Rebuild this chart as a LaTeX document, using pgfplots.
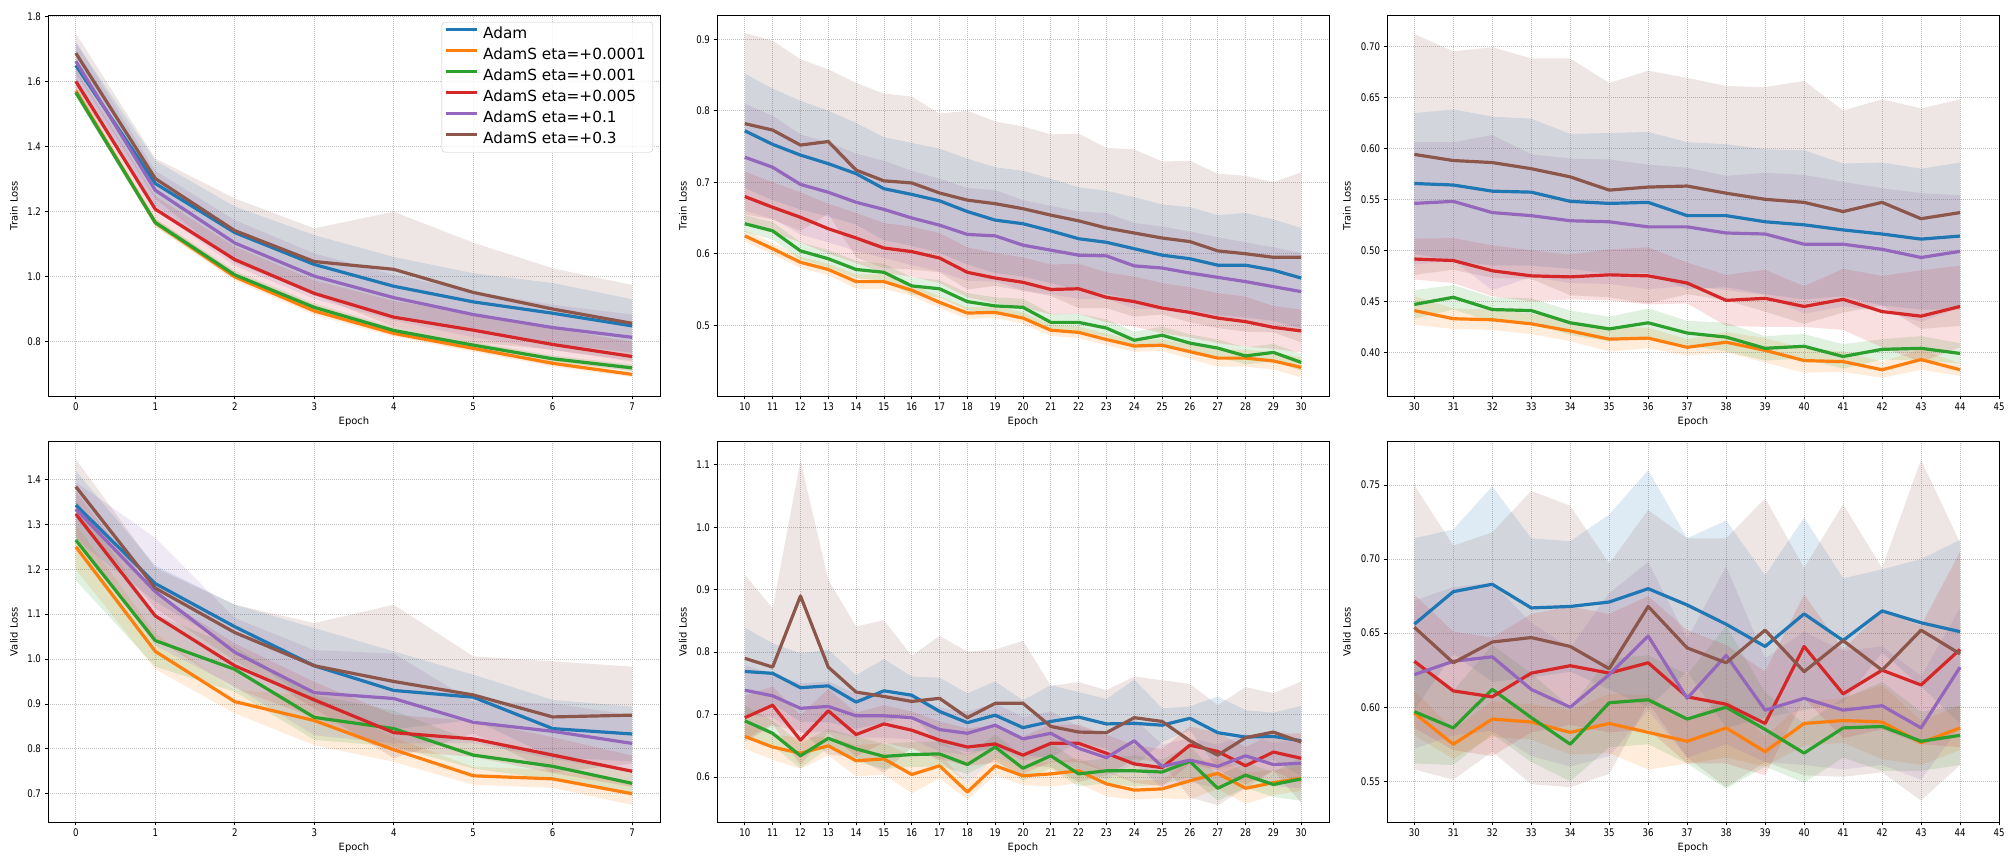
\documentclass[border=0pt]{standalone}
\usepackage{fontspec}
\setmainfont{DejaVu Sans}
\newfontfamily\tickfont[FakeStretch=0.82]{DejaVu Sans}
\usepackage{pgfplots}
\usepackage{pgfplotstable}
\usepgfplotslibrary{fillbetween}
\pgfplotsset{compat=1.18}

\definecolor{cA}{HTML}{1F77B4}
\definecolor{cB}{HTML}{FF7F0E}
\definecolor{cC}{HTML}{2CA02C}
\definecolor{cD}{HTML}{D62728}
\definecolor{cE}{HTML}{9467BD}
\definecolor{cF}{HTML}{8C564B}

% columns: epoch, then mean (m) and std (s) for
% a = Adam, b = eta 0.0001, c = eta 0.001, d = eta 0.005, e = eta 0.1, f = eta 0.3
\pgfplotstableread{
x  ma    sa    mb    sb    mc    sc    md    sd    me    se    mf    sf
0  1.649 0.070 1.571 0.015 1.566 0.012 1.600 0.035 1.662 0.060 1.687 0.060
1  1.286 0.070 1.165 0.012 1.166 0.012 1.207 0.040 1.265 0.060 1.301 0.062
2  1.135 0.080 0.999 0.012 1.005 0.012 1.052 0.040 1.103 0.070 1.141 0.099
3  1.037 0.090 0.894 0.012 0.905 0.012 0.948 0.040 1.001 0.070 1.046 0.102
4  0.970 0.090 0.825 0.010 0.834 0.010 0.875 0.050 0.935 0.070 1.022 0.177
5  0.922 0.088 0.779 0.010 0.789 0.010 0.835 0.050 0.883 0.070 0.951 0.153
6  0.887 0.093 0.733 0.010 0.747 0.010 0.791 0.050 0.843 0.070 0.900 0.125
7  0.848 0.082 0.699 0.008 0.719 0.010 0.754 0.045 0.813 0.070 0.856 0.118
}\trainA

\pgfplotstableread{
x  ma    sa    mb    sb    mc    sc    md    sd    me    se    mf    sf
10 0.772 0.080 0.625 0.008 0.642 0.012 0.680 0.035 0.735 0.075 0.782 0.127
11 0.753 0.078 0.607 0.008 0.632 0.012 0.665 0.035 0.721 0.072 0.773 0.125
12 0.738 0.076 0.588 0.008 0.604 0.012 0.651 0.035 0.697 0.070 0.752 0.120
13 0.726 0.074 0.578 0.008 0.593 0.012 0.635 0.035 0.686 0.070 0.757 0.101
14 0.712 0.071 0.561 0.010 0.578 0.012 0.622 0.035 0.672 0.068 0.717 0.122
15 0.691 0.072 0.561 0.010 0.574 0.012 0.608 0.035 0.662 0.068 0.702 0.122
16 0.683 0.072 0.549 0.008 0.555 0.012 0.603 0.035 0.650 0.066 0.699 0.121
17 0.674 0.073 0.532 0.008 0.551 0.012 0.594 0.035 0.640 0.065 0.685 0.111
18 0.659 0.074 0.517 0.008 0.533 0.012 0.574 0.035 0.627 0.065 0.675 0.125
19 0.647 0.074 0.518 0.008 0.527 0.012 0.566 0.035 0.625 0.064 0.670 0.115
20 0.642 0.074 0.510 0.008 0.525 0.012 0.560 0.035 0.612 0.063 0.663 0.115
21 0.632 0.073 0.493 0.008 0.504 0.012 0.550 0.035 0.605 0.062 0.654 0.113
22 0.621 0.072 0.490 0.008 0.504 0.012 0.551 0.035 0.598 0.061 0.646 0.122
23 0.616 0.072 0.480 0.008 0.496 0.012 0.539 0.035 0.597 0.060 0.636 0.112
24 0.607 0.072 0.471 0.008 0.479 0.012 0.533 0.035 0.583 0.060 0.629 0.117
25 0.598 0.071 0.472 0.008 0.486 0.012 0.524 0.035 0.580 0.058 0.622 0.107
26 0.593 0.072 0.463 0.010 0.475 0.012 0.518 0.035 0.573 0.058 0.617 0.113
27 0.584 0.070 0.454 0.012 0.468 0.012 0.510 0.035 0.567 0.056 0.604 0.108
28 0.584 0.073 0.454 0.012 0.457 0.012 0.505 0.035 0.561 0.055 0.600 0.109
29 0.577 0.071 0.450 0.012 0.462 0.012 0.497 0.030 0.554 0.055 0.595 0.105
30 0.566 0.070 0.441 0.014 0.448 0.012 0.492 0.030 0.547 0.054 0.595 0.119
}\trainB

\pgfplotstableread{
x  ma     sa    mb    sb    mc    sc    md     sd    me    se    mf    sf
30 0.5655 0.069 0.441 0.014 0.447 0.014 0.4915 0.020 0.546 0.060 0.594 0.118
31 0.564  0.074 0.433 0.010 0.454 0.012 0.490  0.022 0.548 0.058 0.588 0.107
32 0.558  0.073 0.432 0.010 0.442 0.012 0.480  0.025 0.537 0.076 0.586 0.113
33 0.557  0.072 0.428 0.010 0.441 0.012 0.475  0.025 0.534 0.060 0.580 0.108
34 0.548  0.066 0.421 0.010 0.429 0.012 0.474  0.022 0.529 0.061 0.572 0.116
35 0.546  0.069 0.413 0.012 0.423 0.012 0.476  0.025 0.528 0.061 0.559 0.105
36 0.547  0.069 0.414 0.010 0.429 0.014 0.475  0.028 0.523 0.061 0.562 0.114
37 0.534  0.072 0.405 0.008 0.419 0.012 0.468  0.020 0.523 0.058 0.563 0.106
38 0.534  0.070 0.410 0.010 0.415 0.014 0.451  0.025 0.517 0.056 0.556 0.105
39 0.528  0.071 0.402 0.012 0.404 0.012 0.453  0.028 0.516 0.060 0.550 0.110
40 0.525  0.073 0.392 0.012 0.406 0.012 0.445  0.020 0.506 0.068 0.547 0.119
41 0.520  0.065 0.391 0.010 0.396 0.012 0.452  0.030 0.506 0.061 0.538 0.099
42 0.516  0.070 0.383 0.008 0.403 0.010 0.440  0.035 0.501 0.060 0.547 0.101
43 0.511  0.069 0.393 0.010 0.404 0.012 0.4355 0.045 0.493 0.063 0.531 0.108
44 0.514  0.072 0.383 0.006 0.399 0.010 0.445  0.040 0.499 0.055 0.537 0.111
}\trainC

\pgfplotstableread{
x  ma    sa    mb    sb    mc    sc    md    sd    me    se    mf    sf
0  1.343 0.076 1.250 0.050 1.265 0.090 1.323 0.050 1.334 0.060 1.384 0.061
1  1.168 0.040 1.017 0.040 1.041 0.058 1.096 0.050 1.150 0.120 1.158 0.045
2  1.072 0.049 0.905 0.026 0.977 0.050 0.985 0.050 1.015 0.076 1.059 0.062
3  0.985 0.084 0.863 0.055 0.870 0.050 0.909 0.040 0.925 0.095 0.985 0.095
4  0.930 0.087 0.798 0.027 0.845 0.040 0.836 0.040 0.912 0.100 0.950 0.171
5  0.915 0.050 0.740 0.020 0.786 0.030 0.822 0.040 0.859 0.046 0.920 0.086
6  0.845 0.064 0.733 0.020 0.761 0.030 0.786 0.040 0.839 0.062 0.871 0.124
7  0.833 0.061 0.700 0.025 0.723 0.025 0.750 0.035 0.812 0.063 0.875 0.108
}\validA

\pgfplotstableread{
x  ma    sa    mb    sb    mc    sc    md    sd    me    se    mf    sf
10 0.769 0.070 0.665 0.020 0.690 0.025 0.695 0.035 0.739 0.040 0.790 0.134
11 0.766 0.048 0.648 0.020 0.670 0.020 0.715 0.030 0.730 0.035 0.776 0.094
12 0.743 0.055 0.638 0.025 0.634 0.020 0.659 0.040 0.710 0.040 0.890 0.216
13 0.746 0.058 0.650 0.015 0.662 0.015 0.706 0.035 0.713 0.040 0.776 0.140
14 0.720 0.043 0.626 0.025 0.645 0.020 0.668 0.035 0.698 0.035 0.736 0.105
15 0.738 0.051 0.629 0.025 0.633 0.020 0.685 0.030 0.698 0.035 0.729 0.122
16 0.731 0.030 0.604 0.030 0.636 0.020 0.675 0.030 0.695 0.035 0.721 0.073
17 0.705 0.054 0.618 0.020 0.637 0.020 0.659 0.030 0.676 0.035 0.726 0.100
18 0.687 0.047 0.576 0.012 0.620 0.015 0.648 0.030 0.670 0.035 0.695 0.106
19 0.699 0.054 0.618 0.015 0.648 0.020 0.653 0.030 0.683 0.035 0.718 0.086
20 0.679 0.044 0.602 0.015 0.614 0.020 0.635 0.030 0.661 0.035 0.718 0.100
21 0.689 0.058 0.605 0.020 0.634 0.020 0.654 0.030 0.670 0.035 0.681 0.065
22 0.696 0.040 0.610 0.020 0.605 0.020 0.654 0.030 0.646 0.035 0.672 0.080
23 0.685 0.040 0.589 0.020 0.610 0.020 0.638 0.030 0.631 0.035 0.671 0.068
24 0.686 0.070 0.579 0.015 0.610 0.025 0.621 0.030 0.658 0.035 0.695 0.066
25 0.683 0.027 0.581 0.015 0.608 0.020 0.615 0.030 0.617 0.035 0.689 0.066
26 0.694 0.019 0.594 0.030 0.625 0.025 0.651 0.030 0.627 0.035 0.658 0.091
27 0.671 0.058 0.606 0.025 0.582 0.020 0.641 0.030 0.617 0.035 0.635 0.080
28 0.664 0.043 0.582 0.025 0.603 0.020 0.618 0.030 0.634 0.035 0.663 0.081
29 0.665 0.038 0.591 0.020 0.588 0.020 0.640 0.030 0.620 0.035 0.672 0.062
30 0.658 0.056 0.598 0.020 0.597 0.035 0.630 0.040 0.622 0.040 0.656 0.097
}\validB

\pgfplotstableread{
x  ma    sa    mb    sb    mc    sc    md    sd    me    se    mf    sf
30 0.656 0.058 0.596 0.015 0.597 0.035 0.631 0.045 0.622 0.050 0.654 0.096
31 0.678 0.042 0.575 0.010 0.586 0.025 0.611 0.040 0.631 0.050 0.630 0.079
32 0.683 0.066 0.592 0.012 0.612 0.030 0.607 0.040 0.634 0.050 0.644 0.074
33 0.667 0.047 0.590 0.012 0.593 0.030 0.623 0.040 0.612 0.045 0.647 0.099
34 0.668 0.044 0.583 0.015 0.575 0.025 0.628 0.040 0.600 0.040 0.641 0.095
35 0.671 0.059 0.589 0.020 0.603 0.030 0.623 0.040 0.622 0.055 0.626 0.071
36 0.680 0.080 0.583 0.025 0.605 0.030 0.630 0.045 0.648 0.050 0.668 0.065
37 0.669 0.045 0.577 0.015 0.592 0.030 0.607 0.045 0.606 0.040 0.640 0.074
38 0.656 0.070 0.586 0.020 0.600 0.055 0.602 0.040 0.635 0.060 0.630 0.084
39 0.641 0.048 0.570 0.010 0.585 0.025 0.589 0.035 0.598 0.035 0.652 0.089
40 0.663 0.065 0.589 0.015 0.569 0.020 0.641 0.035 0.606 0.045 0.624 0.070
41 0.645 0.042 0.591 0.015 0.586 0.020 0.609 0.030 0.598 0.040 0.645 0.092
42 0.665 0.028 0.590 0.025 0.587 0.030 0.625 0.040 0.601 0.040 0.625 0.069
43 0.657 0.043 0.576 0.015 0.577 0.020 0.615 0.040 0.586 0.035 0.652 0.115
44 0.651 0.062 0.586 0.015 0.581 0.020 0.639 0.066 0.627 0.040 0.636 0.075
}\validC

% shaded band of mean +/- std for one run
\newcommand\bandof[3]{%
  \addplot[draw=none, name path=up#2, forget plot] table[x=x, y expr=\thisrow{m#2}+\thisrow{s#2}] {#1};
  \addplot[draw=none, name path=lo#2, forget plot] table[x=x, y expr=\thisrow{m#2}-\thisrow{s#2}] {#1};
  \addplot[fill=#3, fill opacity=0.15, draw=none, forget plot] fill between[of=up#2 and lo#2];
}
\newcommand\allbands[1]{%
  \bandof{#1}{a}{cA}\bandof{#1}{b}{cB}\bandof{#1}{c}{cC}%
  \bandof{#1}{d}{cD}\bandof{#1}{e}{cE}\bandof{#1}{f}{cF}%
}
\newcommand\allcurves[1]{%
  \addplot[cA, run] table[x=x, y=ma] {#1};
  \addplot[cB, run] table[x=x, y=mb] {#1};
  \addplot[cC, run] table[x=x, y=mc] {#1};
  \addplot[cD, run] table[x=x, y=md] {#1};
  \addplot[cE, run] table[x=x, y=me] {#1};
  \addplot[cF, run] table[x=x, y=mf] {#1};
}

\pgfplotsset{
  run/.style={line width=3.2pt, line join=round, mark=none},
  panel/.style={
    width=612pt, height=381pt, scale only axis, anchor=south west,
    axis line style={line width=0.9pt},
    grid=major, grid style={dash pattern=on 0.8pt off 1.2pt, line width=0.7pt, color=black!24},
    tick pos=left, tick align=outside, major tick length=3.5pt,
    tick style={line width=0.8pt, black},
    /pgf/number format/assume math mode=true,
    ticklabel style={font=\tickfont\fontsize{10.5}{12}\selectfont},
    label style={font=\fontsize{10}{12}\selectfont},
    xlabel=Epoch,
    xlabel style={at={(axis description cs:0.5,0)}, anchor=center, yshift=-26pt},
    ylabel style={at={(axis description cs:-0.0556,0.5)}, anchor=center, rotate=0},
  },
  onedec/.style={yticklabel style={/pgf/number format/.cd, fixed, fixed zerofill, precision=1}},
  twodec/.style={yticklabel style={/pgf/number format/.cd, fixed, fixed zerofill, precision=2}},
  early/.style={xmin=-0.35, xmax=7.35, xtick={0,...,7}},
  middle/.style={xmin=9, xmax=31, xtick={10,...,30}},
  late/.style={xmin=29.3, xmax=45, xtick={30,...,45},
    ylabel style={at={(axis description cs:-0.0654,0.5)}}},
}

\begin{document}
\begin{tikzpicture}
% page frame
\path (0pt,0pt) rectangle (2016pt,864pt);

% ---- training loss ----
\begin{axis}[panel, early, onedec, at={(48pt,468pt)},
  ymin=0.6326, ymax=1.804, ytick={0.8,1.0,...,1.8},
  ylabel=Train Loss,
  legend cell align=left,
  legend image code/.code={\draw[#1] (0pt,5pt) -- (31pt,5pt);},
  legend style={at={(0.9886,0.9816)}, anchor=north east,
    draw=black!22, rounded corners=3pt, fill=white, fill opacity=0.8, text opacity=1,
    inner xsep=3pt, inner ysep=2pt, row sep=0pt,
    font=\fontsize{15.3}{18}\selectfont,
    nodes={inner xsep=4pt, inner ysep=3pt, text height=11.5pt, text depth=3.5pt}},
]
\allbands{\trainA}
\allcurves{\trainA}
\legend{{Adam},{AdamS eta=+0.0001},{AdamS eta=+0.001},{AdamS eta=+0.005},{AdamS eta=+0.1},{AdamS eta=+0.3}}
\end{axis}

\begin{axis}[panel, middle, onedec, at={(717pt,468pt)},
  ymin=0.401, ymax=0.934, ytick={0.4,0.5,...,0.9},
  ylabel=Train Loss]
\allbands{\trainB}
\allcurves{\trainB}
\end{axis}

\begin{axis}[panel, late, twodec, at={(1387pt,468pt)},
  ymin=0.3573, ymax=0.7306, ytick={0.40,0.45,...,0.71},
  ylabel=Train Loss]
\allbands{\trainC}
\allcurves{\trainC}
\end{axis}

% ---- validation loss ----
\begin{axis}[panel, early, onedec, at={(48pt,42pt)},
  ymin=0.637, ymax=1.4856, ytick={0.7,0.8,...,1.41},
  ylabel=Valid Loss]
\allbands{\validA}
\allcurves{\validA}
\end{axis}

\begin{axis}[panel, middle, onedec, at={(717pt,42pt)},
  ymin=0.528, ymax=1.138, ytick={0.6,0.7,...,1.11},
  ylabel=Valid Loss]
\allbands{\validB}
\allcurves{\validB}
\end{axis}

\begin{axis}[panel, late, twodec, at={(1387pt,42pt)},
  ymin=0.5225, ymax=0.7797, ytick={0.55,0.60,...,0.76},
  ylabel=Valid Loss]
\allbands{\validC}
\allcurves{\validC}
\end{axis}
\end{tikzpicture}
\end{document}
